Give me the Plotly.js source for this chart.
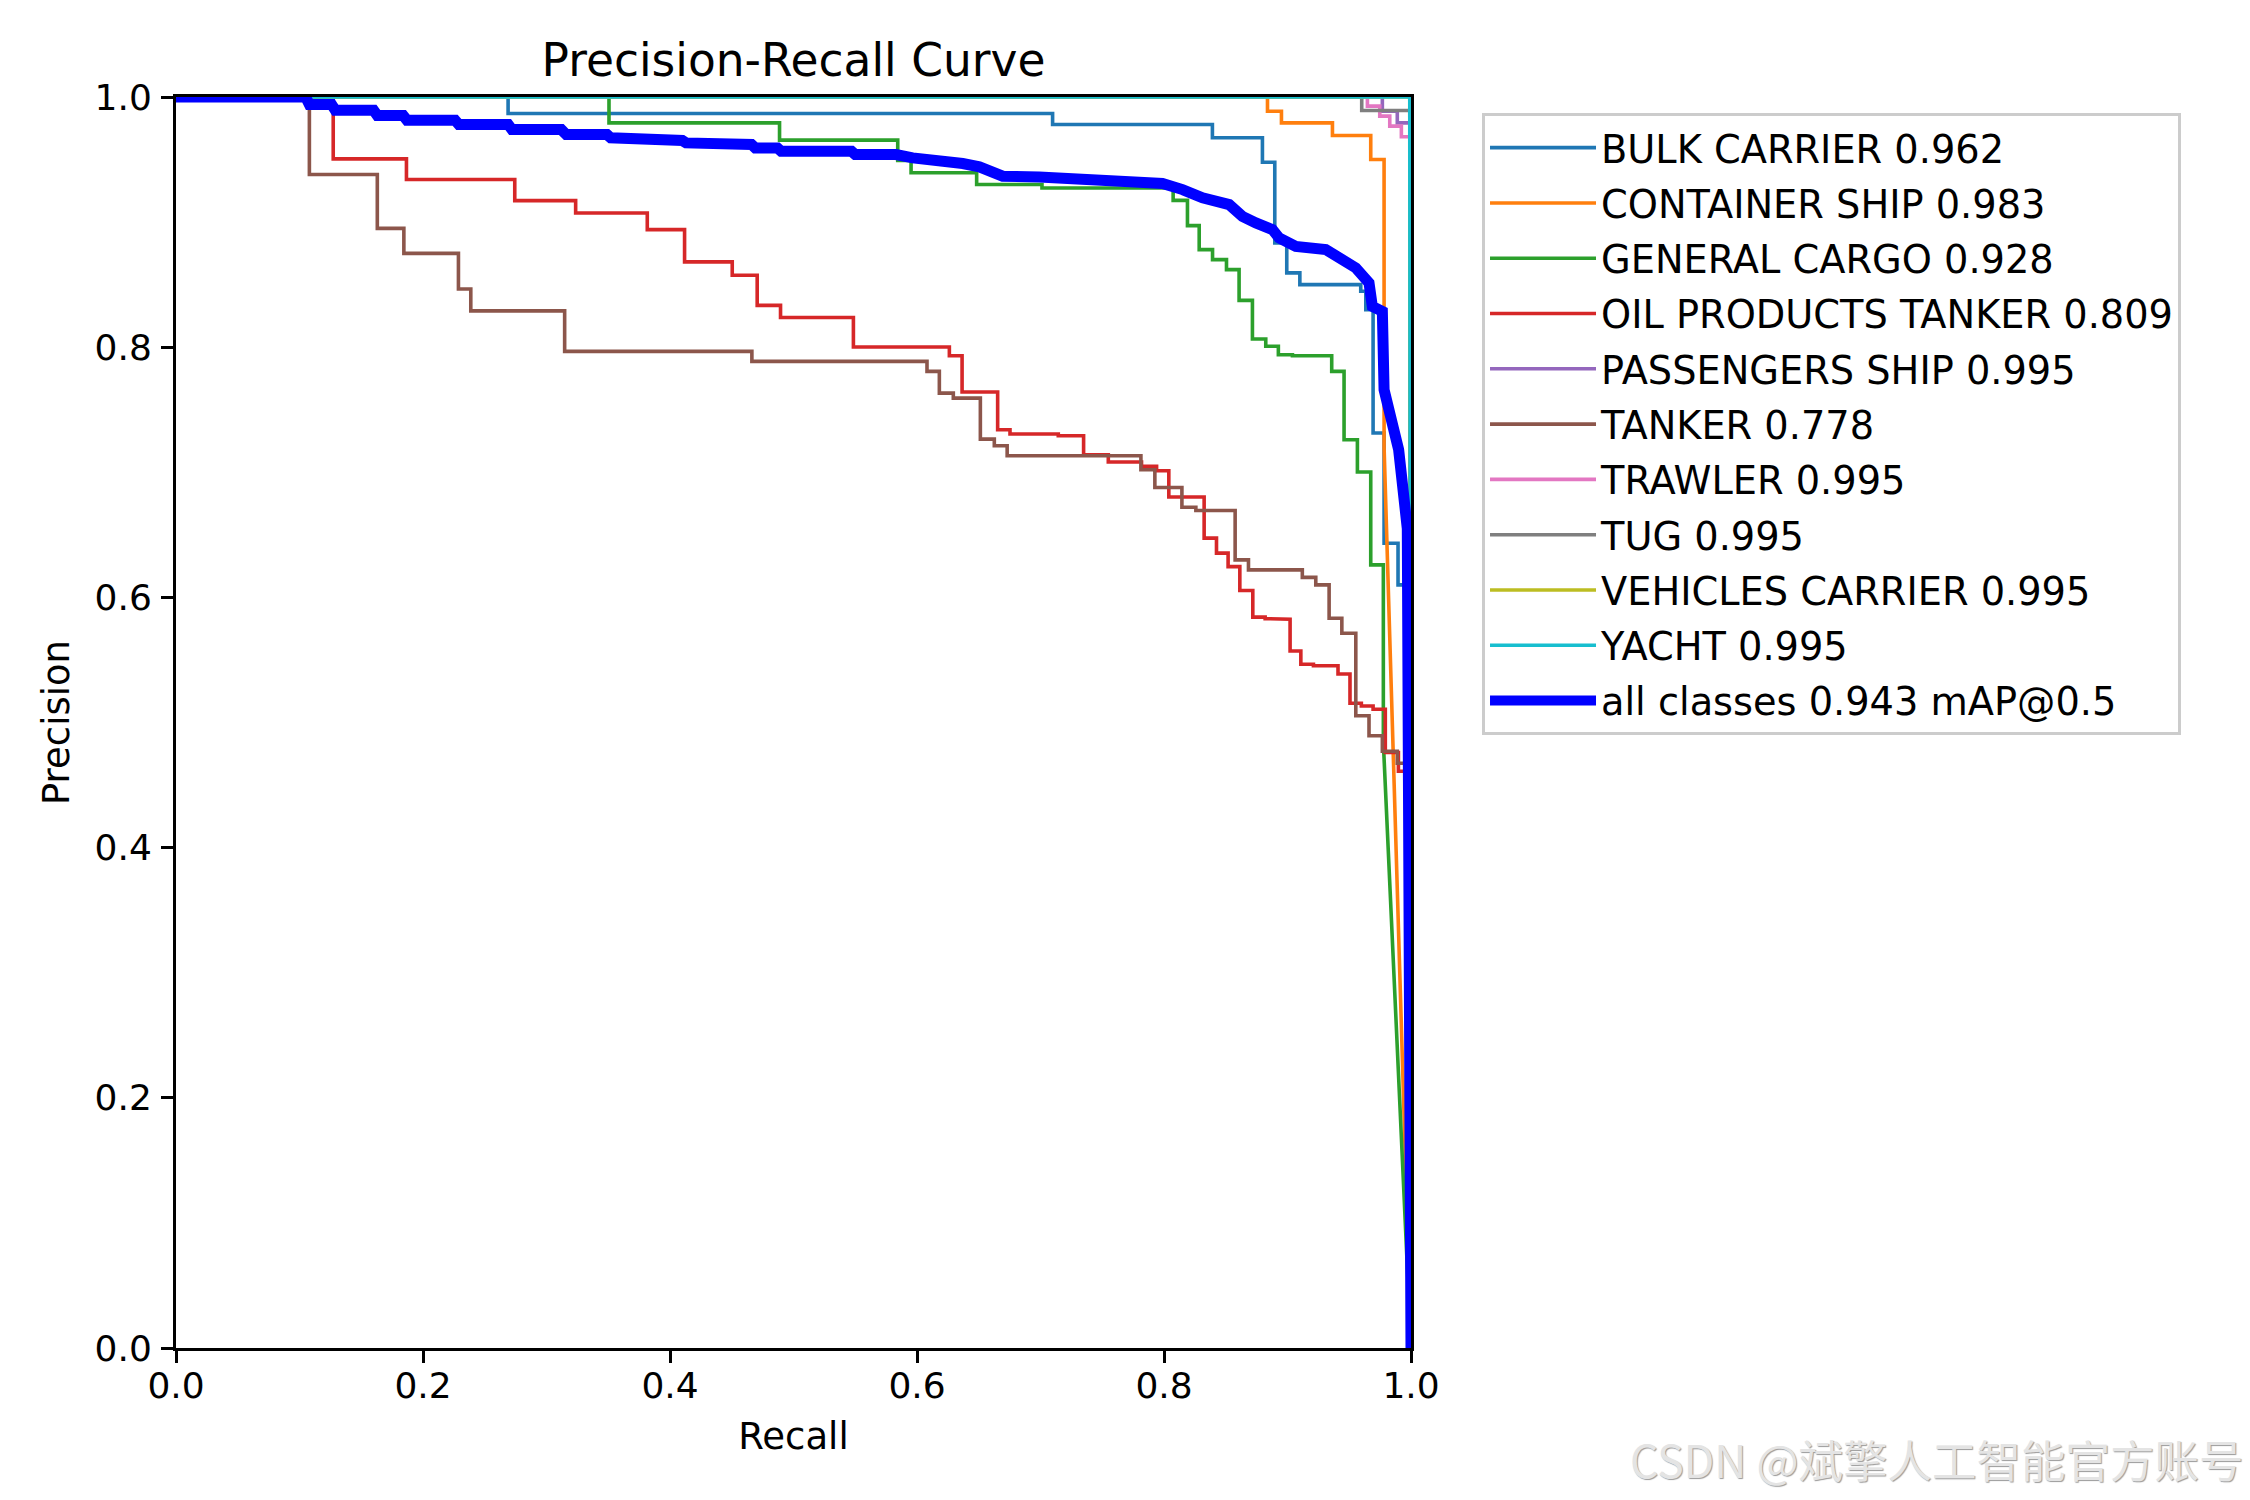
<!DOCTYPE html>
<html>
<head>
<meta charset="utf-8">
<script src="https://cdn.plot.ly/plotly-3.0.1.min.js"></script>
<style>
  html, body { margin: 0; padding: 0; background: #ffffff; }
  #chart { width: 2250px; height: 1500px; }
</style>
</head>
<body>
<div id="chart"></div>
<script>
// ---------------- data ----------------
// Each class: recall values where the precision steps down, and the precision after the step.
// The curve starts at (0, 1) and after the last step runs straight to (1, 0).
const CLASS_NAMES = ["BULK CARRIER", "CONTAINER SHIP", "GENERAL CARGO", "OIL PRODUCTS TANKER",
  "PASSENGERS SHIP", "TANKER", "TRAWLER", "TUG", "VEHICLES CARRIER", "YACHT"];
const CLASS_AP = [0.962, 0.983, 0.928, 0.809, 0.995, 0.778, 0.995, 0.995, 0.995, 0.995];
const CLASS_COLORS = ["#1f77b4", "#ff7f0e", "#2ca02c", "#d62728", "#9467bd",
  "#8c564b", "#e377c2", "#7f7f7f", "#bcbd22", "#17becf"];

const BULK_R = [0.2689, 0.7098, 0.8392, 0.8797, 0.8897, 0.8994, 0.910, 0.9593, 0.9634, 0.9693, 0.9782, 0.9895, 0.9960];
const BULK_P = [0.9868, 0.978, 0.9674, 0.9478, 0.8834, 0.8594, 0.850, 0.8447, 0.830, 0.7314, 0.6433, 0.610, 0.470];

const CONTAINER_R = [0.8838, 0.8951, 0.9364, 0.9674, 0.9782];
const CONTAINER_P = [0.9886, 0.9793, 0.9692, 0.950, 0.720];

const GENERAL_R = [0.3506, 0.4887, 0.5844, 0.5952, 0.6483, 0.7012, 0.8074, 0.819, 0.8285, 0.8393, 0.8506,
  0.8608, 0.8716, 0.8824, 0.8926, 0.904, 0.9358, 0.9458, 0.9566, 0.9674, 0.9776];
const GENERAL_P = [0.9793, 0.9655, 0.9492, 0.9394, 0.930, 0.9273, 0.9174, 0.8972, 0.878, 0.870, 0.862,
  0.8374, 0.8066, 0.8007, 0.794, 0.7932, 0.7807, 0.726, 0.7002, 0.626, 0.484];

const OIL_R = [0.1273, 0.1866, 0.2743, 0.3236, 0.3816, 0.4118, 0.4504, 0.4706, 0.4895, 0.5485, 0.6262, 0.6365,
  0.6653, 0.6753, 0.7144, 0.7349, 0.7549, 0.7818, 0.7940, 0.8039, 0.8325, 0.8425, 0.8519, 0.8614, 0.8719,
  0.8819, 0.8927, 0.9021, 0.9108, 0.9210, 0.9409, 0.9506, 0.9598, 0.9693, 0.9792, 0.9898, 0.9960];
const OIL_P = [0.9505, 0.934, 0.9172, 0.9073, 0.894, 0.8682, 0.8575, 0.8334, 0.8238, 0.8002, 0.7932, 0.7642,
  0.734, 0.7306, 0.7292, 0.714, 0.7082, 0.7047, 0.7012, 0.6802, 0.6474, 0.6354, 0.6246, 0.6055, 0.5842,
  0.583, 0.5826, 0.5572, 0.5466, 0.5454, 0.5388, 0.5154, 0.5132, 0.5106, 0.476, 0.461, 0.447];

const PASSENGERS_R = [0.9768, 0.9889, 0.9990];
const PASSENGERS_P = [0.9886, 0.9793, 0.9793];

const TANKER_R = [0.108, 0.163, 0.1845, 0.2287, 0.2387, 0.3147, 0.4663, 0.6081, 0.6181, 0.6294, 0.6513, 0.6626,
  0.673, 0.7813, 0.7926, 0.8145, 0.8258, 0.8576, 0.8684, 0.912, 0.9229, 0.9337, 0.944, 0.9553, 0.966,
  0.9768, 0.9889, 0.9960];
const TANKER_P = [0.938, 0.895, 0.875, 0.8465, 0.829, 0.7967, 0.7887, 0.7807, 0.7633, 0.7593, 0.7265, 0.7212,
  0.7132, 0.702, 0.6879, 0.6721, 0.6695, 0.630, 0.622, 0.616, 0.610, 0.5833, 0.5713, 0.5054, 0.4894,
  0.477, 0.4674, 0.4674];

const TRAWLER_R = [0.9647, 0.9747, 0.9828, 0.9922, 0.9990];
const TRAWLER_P = [0.9927, 0.9847, 0.9767, 0.9682, 0.9682];

const TUG_R = [0.9601, 0.9990];
const TUG_P = [0.9892, 0.9892];

const VEHICLES_R = [0.9990];
const VEHICLES_P = [1.0];

const YACHT_R = [0.9990];
const YACHT_P = [1.0];

const CLASS_R = [BULK_R, CONTAINER_R, GENERAL_R, OIL_R, PASSENGERS_R, TANKER_R, TRAWLER_R, TUG_R, VEHICLES_R, YACHT_R];
const CLASS_P = [BULK_P, CONTAINER_P, GENERAL_P, OIL_P, PASSENGERS_P, TANKER_P, TRAWLER_P, TUG_P, VEHICLES_P, YACHT_P];

// All classes (mean) curve, read as a polyline
const ALL_R = [0, 0.105, 0.108, 0.126, 0.129, 0.160, 0.163, 0.184, 0.187, 0.226, 0.229, 0.269, 0.272, 0.312, 0.316,
  0.349, 0.352, 0.380, 0.383, 0.410, 0.413, 0.449, 0.452, 0.466, 0.469, 0.487, 0.490, 0.547, 0.550, 0.583,
  0.5965, 0.618, 0.637, 0.6505, 0.659, 0.6694, 0.699, 0.734, 0.7773, 0.7988, 0.815, 0.8312, 0.8528, 0.8635,
  0.8744, 0.8878, 0.8932, 0.9067, 0.931, 0.9444, 0.9553, 0.966, 0.9687, 0.9768, 0.9782, 0.990, 0.997, 1.0];
const ALL_P = [1, 1, 0.994, 0.994, 0.9894, 0.9894, 0.9852, 0.9852, 0.9815, 0.9815, 0.978, 0.978, 0.974, 0.974, 0.970,
  0.970, 0.9674, 0.9674, 0.9652, 0.9652, 0.9633, 0.9633, 0.962, 0.962, 0.9593, 0.9593, 0.9566, 0.9566, 0.954, 0.954,
  0.9513, 0.9494, 0.9468, 0.9442, 0.9407, 0.9367, 0.936, 0.9345, 0.9334, 0.9308, 0.926, 0.9194, 0.914, 0.9046,
  0.8993, 0.894, 0.8874, 0.8806, 0.878, 0.870, 0.8634, 0.8514, 0.8326, 0.8286, 0.766, 0.718, 0.655, 0];
const ALL_MAP = 0.943;

const X_TICKS = [0, 0.2, 0.4, 0.6, 0.8, 1.0];
const Y_TICKS = [0, 0.2, 0.4, 0.6, 0.8, 1.0];
const X_TICK_LABELS = ["0.0", "0.2", "0.4", "0.6", "0.8", "1.0"];
const Y_TICK_LABELS = ["0.0", "0.2", "0.4", "0.6", "0.8", "1.0"];

// ---------------- build traces ----------------
function stepCurve(r, p) {
  const x = [0], y = [1];
  let prev = 1;
  for (let i = 0; i < r.length; i++) {
    x.push(r[i], r[i]);
    y.push(prev, p[i]);
    prev = p[i];
  }
  x.push(1); y.push(0);
  return {x, y};
}

const FONT = "DejaVu Sans, Liberation Sans, sans-serif";
const traces = [];
for (let i = 0; i < CLASS_NAMES.length; i++) {
  const c = stepCurve(CLASS_R[i], CLASS_P[i]);
  traces.push({
    type: "scatter", mode: "lines",
    x: c.x, y: c.y,
    name: CLASS_NAMES[i] + " " + CLASS_AP[i].toFixed(3),
    legendgroup: "g" + i,
    line: {color: CLASS_COLORS[i], width: 3.6},
    hoverinfo: "skip"
  });
}
traces.push({
  type: "scatter", mode: "lines",
  x: ALL_R, y: ALL_P,
  name: "all classes " + ALL_MAP.toFixed(3) + " mAP@0.5",
  legendgroup: "gall",
  line: {color: "#0000ff", width: 11},
  hoverinfo: "skip"
});

const axisCommon = {
  range: [0, 1],
  showgrid: false, zeroline: false,
  showline: true, mirror: true, linecolor: "#000000", linewidth: 3,
  ticks: "outside", ticklen: 12, tickwidth: 3, tickcolor: "#000000",
  tickfont: {family: FONT, size: 36, color: "#000000"},
  fixedrange: true
};

const layout = {
  width: 2250, height: 1500,
  paper_bgcolor: "#ffffff", plot_bgcolor: "#ffffff",
  margin: {l: 176, r: 839, t: 97, b: 152, pad: 0},
  font: {family: FONT, color: "#000000"},
  title: {
    text: "Precision-Recall Curve",
    font: {family: FONT, size: 45.5, color: "#000000"},
    x: 0.5, xref: "paper", xanchor: "center",
    y: 1 - 60 / 1500, yref: "container", yanchor: "middle"
  },
  xaxis: Object.assign({}, axisCommon, {
    tickvals: X_TICKS, ticktext: X_TICK_LABELS,
    ticklabelstandoff: -8,
    title: {text: "Recall", font: {family: FONT, size: 37, color: "#000000"}, standoff: 18}
  }),
  yaxis: Object.assign({}, axisCommon, {
    tickvals: Y_TICKS, ticktext: Y_TICK_LABELS,
    ticklabelstandoff: 2,
    title: {text: "Precision", font: {family: FONT, size: 37, color: "#000000"}, standoff: 14}
  }),
  showlegend: true,
  legend: {
    x: 1.0575, y: 0.987, xanchor: "left", yanchor: "top",
    xref: "paper", yref: "paper",
    bgcolor: "#ffffff", bordercolor: "#cccccc", borderwidth: 3,
    font: {family: FONT, size: 38.3, color: "#000000"},
    itemwidth: 106,
    tracegroupgap: 2.5,
    traceorder: "grouped"
  },
  annotations: [{
    text: "CSDN @斌擎人工智能官方账号",
    xref: "paper", yref: "paper",
    x: (2246 - 176) / 1235, y: (1347.5 - 1458) / 1250,
    xanchor: "right", yanchor: "middle",
    showarrow: false,
    font: {family: "Noto Sans CJK SC, sans-serif", size: 44.5, color: "#e4e4e4",
           shadow: "1px 1px 1px #9a9a9a"}
  }]
};

Plotly.newPlot("chart", traces, layout, {staticPlot: true, displayModeBar: false});
</script>
</body>
</html>
